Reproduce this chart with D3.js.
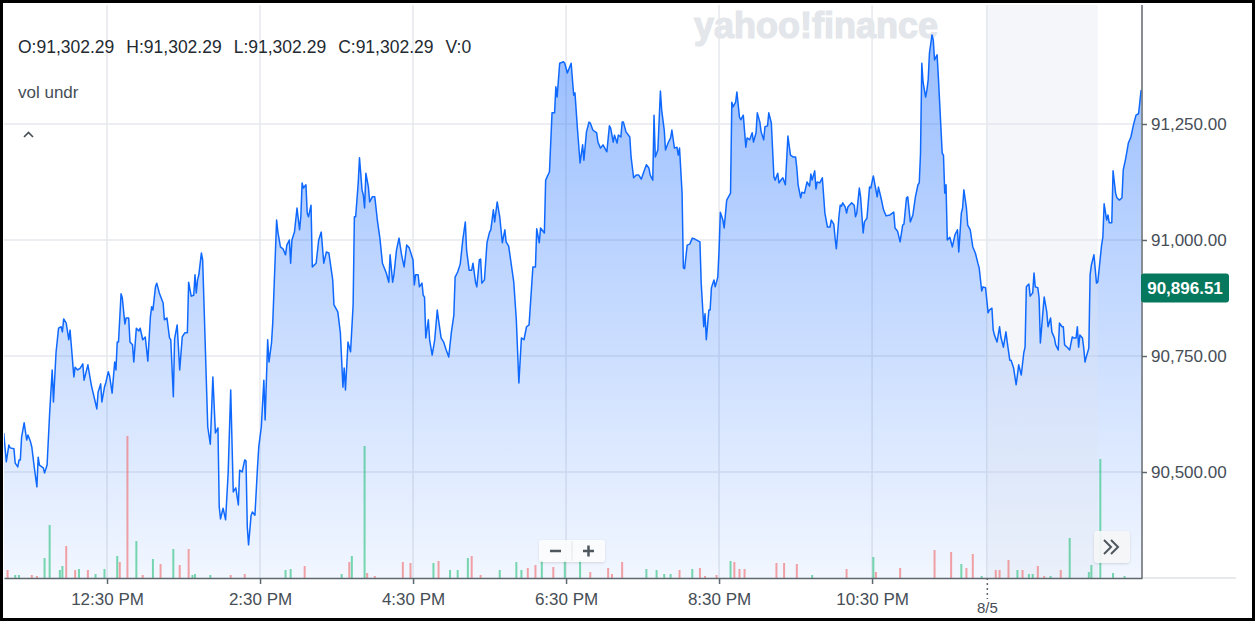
<!DOCTYPE html>
<html>
<head>
<meta charset="utf-8">
<script src="https://cdn.jsdelivr.net/npm/d3@7"></script>
<style>
  body { margin: 0; background: #fff; }
  svg { display: block; }
  text { font-family: "Liberation Sans", Arial, Helvetica, sans-serif; }
</style>
</head>
<body>
<script>
// price trace: [minutes after 12:00 PM Aug 4, price]
const priceSeries = [
  [-51,90584],[-49,90522],[-47,90558],[-46,90552],[-43,90550],[-42,90519],[-40,90511],[-39,90526],[-38,90526],[-37,90575],
  [-35,90606],[-33,90569],[-32,90580],[-30,90565],[-29,90554],[-27,90509],[-25,90468],[-24,90532],[-23,90515],[-20,90509],
  [-19,90498],[-17,90515],[-15,90627],[-13,90720],[-12,90651],[-10,90757],[-8,90810],[-6,90813],[-5,90802],[-4,90830],
  [-2,90821],[0,90785],[1,90806],[4,90705],[5,90726],[7,90720],[9,90724],[11,90733],[12,90698],[15,90731],
  [17,90698],[18,90683],[20,90660],[22,90636],[23,90672],[25,90690],[26,90651],[28,90683],[29,90692],[31,90716],
  [32,90707],[34,90670],[36,90737],[37,90720],[38,90780],[39,90780],[41,90884],[42,90875],[44,90819],[45,90832],
  [47,90832],[48,90780],[50,90774],[51,90737],[53,90810],[55,90804],[56,90810],[58,90785],[60,90791],[62,90739],
  [64,90834],[65,90856],[66,90849],[68,90899],[69,90907],[71,90886],[74,90864],[75,90828],[77,90832],[79,90789],
  [80,90785],[82,90662],[83,90787],[85,90817],[87,90720],[89,90791],[91,90800],[93,90800],[94,90909],[96,90879],
  [98,90881],[99,90925],[100,90886],[101,90914],[102,90925],[104,90972],[105,90957],[109,90597],[111,90560],[113,90705],
  [115,90584],[117,90595],[118,90425],[119,90399],[121,90422],[123,90397],[125,90498],[127,90677],[129,90457],[131,90466],
  [133,90429],[134,90504],[136,90500],[138,90526],[139,90524],[140,90382],[141,90343],[143,90407],[144,90414],[146,90407],
  [148,90509],[149,90554],[151,90597],[153,90698],[154,90612],[156,90785],[157,90737],[159,90778],[160,90823],[163,91043],
  [164,91017],[166,90985],[168,90981],[170,90968],[171,90989],[173,91000],[174,90950],[175,91000],[177,91017],[179,91069],
  [181,91022],[182,91050],[183,91123],[184,91112],[186,91119],[187,91058],[188,91050],[190,91075],[191,90942],[194,90950],
  [196,91000],[198,91017],[200,90950],[202,90974],[204,90972],[207,90914],[208,90860],[211,90845],[213,90800],[215,90683],
  [216,90724],[217,90677],[219,90780],[221,90759],[223,90860],[224,91050],[225,91050],[227,91123],[228,91177],[230,91108],
  [231,91097],[232,91069],[233,91144],[235,91114],[236,91082],[238,91093],[240,91093],[242,91043],[244,91004],[246,90950],
  [249,90929],[251,90909],[252,90968],[254,90909],[255,90925],[257,90978],[259,91004],[261,90968],[263,90942],[265,90989],
  [267,90983],[270,90957],[271,90903],[272,90925],[274,90925],[275,90899],[277,90907],[278,90881],[279,90877],[280,90789],
  [282,90828],[283,90785],[285,90752],[287,90785],[289,90849],[290,90828],[292,90789],[294,90780],[296,90763],[298,90748],
  [300,90800],[302,90838],[303,90920],[305,90931],[307,90948],[309,91000],[311,91039],[312,90978],[314,90935],[316,90935],
  [317,90950],[319,90909],[320,90899],[322,90957],[323,90959],[324,90907],[326,90914],[328,90994],[330,91017],[331,91022],
  [333,91065],[334,91039],[336,91082],[338,91050],[340,90994],[342,91022],[343,90996],[345,90987],[349,90909],[351,90828],
  [353,90692],[355,90789],[357,90785],[359,90813],[361,90817],[364,90942],[366,90942],[367,91024],[369,90994],[370,91026],
  [373,91015],[374,91129],[377,91147],[379,91274],[381,91274],[382,91330],[383,91308],[385,91381],[388,91384],[389,91381],
  [391,91360],[394,91381],[396,91312],[397,91317],[399,91237],[401,91166],[403,91205],[404,91172],[406,91233],[408,91254],
  [409,91252],[411,91237],[414,91231],[415,91211],[417,91198],[419,91205],[422,91190],[424,91246],[425,91241],[427,91211],
  [428,91226],[430,91209],[431,91226],[433,91222],[434,91254],[435,91254],[437,91233],[440,91222],[441,91179],[443,91134],
  [445,91140],[447,91140],[449,91131],[451,91147],[453,91162],[455,91155],[456,91140],[458,91129],[459,91269],[460,91179],
  [462,91194],[464,91321],[465,91280],[467,91237],[468,91194],[470,91209],[472,91220],[473,91237],[475,91198],[477,91200],
  [478,91183],[479,91198],[481,91101],[482,90940],[483,90938],[485,90989],[487,90991],[489,91004],[491,91002],[495,90996],
  [496,90907],[498,90813],[499,90841],[500,90785],[502,90849],[503,90849],[504,90897],[506,90914],[507,90899],[509,90920],
  [510,90978],[511,91060],[513,91043],[514,91026],[516,91086],[519,91101],[520,91297],[521,91287],[523,91297],[524,91319],
  [526,91265],[527,91259],[529,91269],[531,91200],[532,91220],[534,91216],[536,91231],[537,91211],[539,91231],[540,91274],
  [542,91254],[543,91233],[545,91216],[546,91244],[548,91246],[549,91274],[551,91252],[553,91136],[554,91129],[556,91144],
  [557,91123],[559,91131],[560,91134],[562,91119],[564,91224],[566,91183],[568,91179],[570,91179],[571,91155],[572,91119],
  [574,91091],[575,91103],[577,91101],[579,91125],[581,91116],[582,91142],[583,91129],[585,91149],[586,91110],[587,91125],
  [589,91123],[591,91134],[593,91058],[595,91028],[597,91028],[598,91043],[600,91034],[601,91004],[602,90981],[604,91050],
  [605,91075],[606,91073],[607,91080],[609,91071],[610,91058],[611,91071],[614,91080],[616,91075],[617,91050],[618,91058],
  [620,91112],[621,91093],[623,91015],[624,91039],[626,91047],[628,91114],[629,91112],[631,91138],[632,91123],[634,91093],
  [635,91114],[637,91091],[639,91065],[641,91052],[644,91054],[647,91060],[648,91026],[650,91019],[652,90996],[654,91032],
  [655,91034],[657,91091],[658,91093],[660,91039],[662,91054],[664,91093],[666,91119],[667,91123],[668,91187],[669,91381],
  [670,91340],[672,91308],[673,91323],[674,91345],[675,91403],[677,91442],[678,91431],[679,91388],[681,91399],[682,91351],
  [685,91187],[686,91183],[687,91101],[688,91119],[689,91000],[691,91006],[693,90985],[695,91011],[697,91022],[698,90974],
  [700,91058],[701,91069],[702,91108],[704,91069],[705,91032],[707,91022],[709,90985],[711,90972],[713,90950],[714,90940],
  [716,90890],[717,90899],[719,90897],[721,90843],[722,90849],[724,90853],[725,90806],[726,90795],[728,90780],[730,90813],
  [731,90791],[733,90769],[735,90802],[736,90780],[738,90741],[739,90741],[741,90724],[743,90688],[744,90709],[745,90731],
  [747,90709],[749,90757],[750,90769],[751,90899],[753,90905],[754,90879],[756,90886],[757,90929],[758,90899],[760,90897],
  [761,90875],[762,90778],[764,90845],[765,90877],[767,90845],[768,90813],[770,90832],[771,90802],[773,90789],[774,90774],
  [776,90763],[777,90821],[779,90813],[780,90813],[781,90774],[783,90769],[785,90763],[787,90791],[788,90789],[790,90789],
  [791,90813],[792,90769],[793,90795],[795,90789],[796,90767],[797,90737],[798,90748],[800,90767],[801,90925],[802,90946],
  [804,90968],[806,90907],[807,90909],[808,90935],[810,90989],[811,91006],[812,91078],[814,91043],[815,91054],[816,91037],
  [818,91037],[819,91149],[821,91101],[822,91091],[824,91086],[826,91091],[827,91151],[829,91177],[831,91209],[833,91222],
  [835,91248],[837,91269],[839,91272],[840,91297],[841,91323]
];

// volume: [minute, volume, "u" up / "d" down]
const volumeBars = [
  [-48,8,"d"],[-42,3,"u"],[-39,3,"u"],[-29,3,"d"],[-25,2,"d"],[-19,20,"u"],[-15,53,"u"],[-7,8,"u"],[-5,12,"u"],[-2,32,"d"],
  [5,8,"d"],[8,9,"u"],[15,8,"d"],[21,4,"u"],[28,9,"u"],[38,22,"u"],[40,16,"d"],[46,142,"d"],[53,37,"u"],[58,3,"d"],
  [66,19,"u"],[72,14,"d"],[82,29,"u"],[87,13,"d"],[94,29,"d"],[97,3,"u"],[99,4,"u"],[111,3,"u"],[127,3,"d"],[138,4,"d"],
  [170,8,"u"],[174,9,"u"],[185,12,"d"],[214,4,"u"],[220,16,"d"],[222,22,"u"],[232,132,"u"],[234,5,"d"],[240,2,"d"],[262,16,"d"],
  [268,15,"d"],[286,15,"u"],[290,17,"d"],[299,8,"u"],[305,8,"u"],[313,20,"u"],[316,22,"d"],[323,3,"d"],[338,8,"u"],[351,16,"u"],
  [355,8,"u"],[360,10,"d"],[366,13,"d"],[371,18,"u"],[380,11,"d"],[389,18,"u"],[401,18,"u"],[409,6,"d"],[423,10,"d"],[426,4,"d"],
  [434,16,"d"],[453,9,"u"],[461,8,"u"],[467,4,"u"],[472,4,"u"],[479,8,"d"],[489,9,"u"],[495,10,"d"],[499,2,"d"],[508,3,"d"],
  [519,17,"u"],[522,16,"d"],[526,9,"d"],[530,9,"d"],[555,15,"d"],[561,15,"d"],[571,14,"d"],[583,3,"u"],[610,9,"d"],[631,21,"u"],
  [633,6,"d"],[652,10,"d"],[679,28,"d"],[692,26,"d"],[700,14,"u"],[704,10,"d"],[709,24,"d"],[716,2,"u"],[727,8,"d"],[730,8,"d"],
  [737,18,"d"],[744,8,"u"],[748,8,"d"],[753,4,"u"],[756,4,"u"],[760,12,"d"],[765,2,"d"],[770,2,"u"],[778,8,"d"],[785,40,"u"],
  [800,6,"u"],[802,13,"u"],[809,119,"u"],[819,5,"u"],[828,2,"u"]
];

const xTickMinutes = [30, 150, 270, 390, 510, 630];
const dayTickMinute = 720;
const yTickValues = [90500, 90750, 91000, 91250];
const shadedSpan = [720, 807];
const lastPrice = 90896.51;
const headerItems = ["O:91,302.29", "H:91,302.29", "L:91,302.29", "C:91,302.29", "V:0"];
const studyLabel = "vol undr";

const width = 1258, height = 624;
const plot = { left: 4, right: 1142, top: 5, bottom: 578 };
const base = new Date(2025, 7, 4, 12, 0);
const toDate = (m) => new Date(base.getTime() + m * 60000);

const svg = d3.select("body").append("svg")
    .attr("width", width)
    .attr("height", height);

const x = d3.scaleTime()
    .domain([toDate(-50.8), toDate(841.7)])
    .range([plot.left, plot.right]);
const y = d3.scaleLinear()
    .domain([90271.6, 91506.4])
    .range([plot.bottom, plot.top]);
const yVol = d3.scaleLinear()
    .domain([0, 160])
    .range([plot.bottom, plot.bottom - 160]);

const defs = svg.append("defs");
defs.append("clipPath").attr("id", "plotClip")
  .append("rect")
    .attr("x", plot.left).attr("y", plot.top)
    .attr("width", plot.right - plot.left).attr("height", plot.bottom - plot.top);

const grad = defs.append("linearGradient")
    .attr("id", "areaGrad")
    .attr("gradientUnits", "userSpaceOnUse")
    .attr("x1", 0).attr("x2", 0)
    .attr("y1", plot.top).attr("y2", plot.bottom);
grad.append("stop").attr("offset", "0%").attr("stop-color", "#1e6fff").attr("stop-opacity", 0.48);
grad.append("stop").attr("offset", "100%").attr("stop-color", "#1e6fff").attr("stop-opacity", 0.06);

const shadow = defs.append("filter").attr("id", "btnShadow")
    .attr("x", "-20%").attr("y", "-20%").attr("width", "140%").attr("height", "140%");
shadow.append("feDropShadow").attr("dx", 0).attr("dy", 1).attr("stdDeviation", 1.2)
    .attr("flood-color", "#000").attr("flood-opacity", 0.15);

// watermark
svg.append("text")
    .attr("x", 816).attr("y", 38)
    .attr("text-anchor", "middle")
    .attr("fill", "#e3e6ea")
    .attr("stroke", "#e3e6ea").attr("stroke-width", 1.2)
    .style("font-size", "36px")
    .style("font-weight", "bold")
    .text("yahoo!finance");

// grid
const grid = svg.append("g");
grid.selectAll(".hg").data(yTickValues).enter().append("line")
    .attr("x1", plot.left).attr("x2", plot.right)
    .attr("y1", d => y(d)).attr("y2", d => y(d))
    .attr("stroke", "#e6e8ec").attr("stroke-width", 1.5);
grid.selectAll(".vg").data(xTickMinutes.concat([dayTickMinute])).enter().append("line")
    .attr("x1", d => x(toDate(d))).attr("x2", d => x(toDate(d)))
    .attr("y1", plot.top).attr("y2", plot.bottom)
    .attr("stroke", "#e6e8ec").attr("stroke-width", 1.5);

// header: items laid out one after another with a fixed gap
const header = svg.append("g");
let hx = 18;
headerItems.forEach(function(item) {
    const t = header.append("text")
        .attr("x", hx).attr("y", 53)
        .attr("fill", "#232a31")
        .style("font-size", "17.5px")
        .text(item);
    hx += t.node().getComputedTextLength() + 12;
});
svg.append("text")
    .attr("x", 18).attr("y", 98)
    .attr("fill", "#464e56")
    .style("font-size", "17px")
    .text(studyLabel);
svg.append("path")
    .attr("d", "M24,137 L28.5,132.5 L33,137")
    .attr("fill", "none").attr("stroke", "#464e56").attr("stroke-width", 1.6);

const chart = svg.append("g").attr("clip-path", "url(#plotClip)");

const pts = priceSeries.map(d => ({ t: toDate(d[0]), v: d[1] }));

chart.append("path")
    .datum(pts)
    .attr("fill", "url(#areaGrad)")
    .attr("d", d3.area().x(d => x(d.t)).y0(plot.bottom).y1(d => y(d.v)));

// after-hours shading
chart.append("rect")
    .attr("x", x(toDate(shadedSpan[0])))
    .attr("width", x(toDate(shadedSpan[1])) - x(toDate(shadedSpan[0])))
    .attr("y", plot.top).attr("height", plot.bottom - plot.top)
    .attr("fill", "#dde3ee").attr("opacity", 0.32);

// volume
chart.selectAll(".vol").data(volumeBars).enter().append("rect")
    .attr("x", d => x(toDate(d[0])) - 1)
    .attr("width", 2)
    .attr("y", d => yVol(d[1]))
    .attr("height", d => plot.bottom - yVol(d[1]))
    .attr("fill", d => d[2] === "u" ? "#21c07a" : "#f06868")
    .attr("opacity", 0.6);

chart.append("path")
    .datum(pts)
    .attr("fill", "none")
    .attr("stroke", "#0f69ff")
    .attr("stroke-width", 1.5)
    .attr("stroke-linejoin", "round")
    .attr("d", d3.line().x(d => x(d.t)).y(d => y(d.v)));

// axes
svg.append("line")
    .attr("x1", plot.right).attr("x2", 1236)
    .attr("y1", plot.bottom).attr("y2", plot.bottom)
    .attr("stroke", "#dfe3e7").attr("stroke-width", 1.5);

const axisFont = "\"Liberation Sans\", Arial, sans-serif";

const xAxis = svg.append("g")
    .attr("transform", "translate(0," + plot.bottom + ")")
    .call(d3.axisBottom(x)
        .tickValues(xTickMinutes.map(toDate))
        .tickFormat(d3.timeFormat("%-I:%M %p"))
        .tickSize(6).tickSizeOuter(0).tickPadding(9));
xAxis.select(".domain").attr("stroke", "#5f676f").attr("stroke-width", 1.5);
xAxis.selectAll(".tick line").attr("stroke", "#5f676f").attr("stroke-width", 1.5);
xAxis.selectAll("text")
    .attr("fill", "#464e56")
    .style("font-size", "17px")
    .style("font-family", axisFont);

const dayAxis = svg.append("g")
    .attr("transform", "translate(0," + plot.bottom + ")")
    .call(d3.axisBottom(x)
        .tickValues([toDate(dayTickMinute)])
        .tickFormat(d3.timeFormat("%-m/%-d"))
        .tickSize(21).tickSizeOuter(0).tickPadding(3));
dayAxis.select(".domain").remove();
dayAxis.selectAll(".tick line").attr("stroke", "#5f676f").attr("stroke-width", 1.5)
    .attr("stroke-dasharray", "2,3");
dayAxis.selectAll("text")
    .attr("fill", "#464e56")
    .style("font-size", "15px")
    .style("font-family", axisFont);

const yAxis = svg.append("g")
    .attr("transform", "translate(" + plot.right + ",0)")
    .call(d3.axisRight(y)
        .tickValues(yTickValues)
        .tickFormat(d3.format(",.2f"))
        .tickSize(5).tickSizeOuter(0).tickPadding(4));
yAxis.select(".domain").attr("stroke", "#5f676f").attr("stroke-width", 1.5)
    .attr("d", "M0," + plot.top + "V" + plot.bottom);
yAxis.selectAll(".tick line").attr("stroke", "#5f676f").attr("stroke-width", 1.5);
yAxis.selectAll("text")
    .attr("fill", "#464e56")
    .style("font-size", "17px")
    .style("font-family", axisFont);

// last price tag
const tagY = y(lastPrice);
svg.append("rect")
    .attr("x", plot.right - 1).attr("y", tagY - 14.5)
    .attr("width", 88).attr("height", 29).attr("rx", 3)
    .attr("fill", "#05785e");
svg.append("text")
    .attr("x", plot.right + 43).attr("y", tagY + 6)
    .attr("text-anchor", "middle")
    .attr("fill", "#fff")
    .style("font-size", "17px")
    .style("font-weight", "bold")
    .text(d3.format(",.2f")(lastPrice));

// zoom buttons
const zb = svg.append("g");
zb.append("rect")
    .attr("x", 539).attr("y", 540).attr("width", 66).attr("height", 22).attr("rx", 3)
    .attr("fill", "#fff").attr("fill-opacity", 0.85)
    .attr("filter", "url(#btnShadow)");
zb.append("line").attr("x1", 572).attr("x2", 572).attr("y1", 541).attr("y2", 561)
    .attr("stroke", "#e3e6ea");
zb.append("path").attr("d", "M550,551 H561").attr("stroke", "#4f575e").attr("stroke-width", 2.5);
zb.append("path").attr("d", "M583,551 H594 M588.5,545.5 V556.5").attr("stroke", "#4f575e").attr("stroke-width", 2.5);

const fb = svg.append("g");
fb.append("rect")
    .attr("x", 1094).attr("y", 531).attr("width", 36).attr("height", 32).attr("rx", 4)
    .attr("fill", "#f6f7f9").attr("fill-opacity", 0.92)
    .attr("filter", "url(#btnShadow)");
fb.append("path")
    .attr("d", "M1104,540 L1111,547 L1104,554 M1111,540 L1118,547 L1111,554")
    .attr("fill", "none").attr("stroke", "#4f575e").attr("stroke-width", 2);

// outer frame
svg.append("rect")
    .attr("x", 1.5).attr("y", 1.5).attr("width", 1252).attr("height", 618)
    .attr("fill", "none").attr("stroke", "#000").attr("stroke-width", 3);
</script>
</body>
</html>
